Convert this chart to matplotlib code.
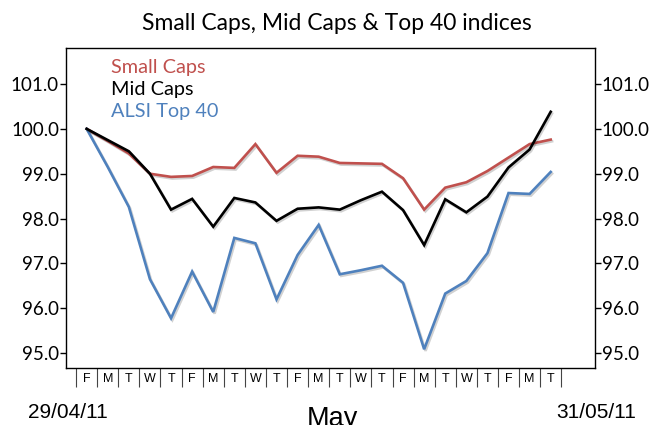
import numpy as np
import matplotlib
matplotlib.use("Agg")
import matplotlib.pyplot as plt
import matplotlib.patheffects as pe

# ---- data (index, 29/04/11 = 100) ----
days = ["F", "M", "T", "W", "T", "F", "M", "T", "W", "T", "F", "M",
        "T", "W", "T", "F", "M", "T", "W", "T", "F", "M", "T"]
small_caps = [100.0, 99.73, 99.45, 99.0, 98.93, 98.95, 99.15, 99.13, 99.66, 99.02,
              99.40, 99.38, 99.24, 99.23, 99.22, 98.90, 98.20, 98.69, 98.81, 99.06,
              99.36, 99.66, 99.76]
mid_caps = [100.0, 99.75, 99.50, 99.0, 98.20, 98.44, 97.82, 98.46, 98.36, 97.95,
            98.22, 98.25, 98.20, 98.41, 98.60, 98.19, 97.41, 98.43, 98.14, 98.49,
            99.14, 99.54, 100.38]
top40 = [100.0, 99.15, 98.26, 96.65, 95.78, 96.82, 95.92, 97.57, 97.45, 96.20,
         97.19, 97.86, 96.76, 96.85, 96.95, 96.57, 95.09, 96.33, 96.61, 97.23,
         98.57, 98.55, 99.04]
yticks = [95, 96, 97, 98, 99, 100, 101]

RED = "#C0504D"; BLUE = "#4F81BD"; BLK = "#000000"
FONT = ["Lato", "DejaVu Sans"]
plt.rcParams.update({"font.family": FONT, "axes.linewidth": 1.0})

fig = plt.figure(figsize=(6.56, 4.25), dpi=100)
ax = fig.add_axes([0.1006, 0.135, 0.8064, 0.753])
x = np.arange(len(days))
shadow = [pe.SimpleLineShadow(offset=(1, -1.2), alpha=0.18, shadow_color="k"), pe.Normal()]
for ys, col in [(small_caps, RED), (top40, BLUE), (mid_caps, BLK)]:
    ax.plot(x, ys, color=col, lw=1.9, solid_joinstyle="miter", path_effects=shadow)

ax.set_xlim(-0.98, 24.1)
ax.set_ylim(94.68, 101.81)
ax.set_yticks(yticks)
ax.set_yticklabels([f"{v:.1f}" for v in yticks])
ax.tick_params(axis="y", which="major", length=4, width=1, pad=1, labelsize=13.5,
               left=True, right=True, labelleft=True, labelright=True)

# category axis: labels between boundary ticks
ax.set_xticks(x)
ax.set_xticklabels(days)
ax.set_xticks(np.arange(-0.5, len(days)), minor=True)
ax.tick_params(axis="x", which="major", length=0, pad=4, labelsize=9)
ax.tick_params(axis="x", which="minor", length=14, width=0.8, color="#444")
for lab in ax.get_xticklabels():
    lab.set_family(["Liberation Sans", "DejaVu Sans"])

fig.text(337 / 656, 1 - 23 / 425, "Small Caps, Mid Caps & Top 40 indices",
         fontsize=16.5, ha="center", va="center")

for txt, col, yy in [("Small Caps", RED, 68), ("Mid Caps", BLK, 90), ("ALSI Top 40", BLUE, 111)]:
    fig.text(111 / 656, 1 - yy / 425, txt, color=col, fontsize=14.3, ha="left", va="center")

for txt, xx, yy in [("29/04/11", 68, 412), ("31/05/11", 596, 412)]:
    fig.text(xx / 656, 1 - yy / 425, txt, fontsize=15, ha="center", va="center",
             family=["Liberation Sans", "DejaVu Sans"])
# month label, cut at the bottom edge as in the reference
fig.text(332 / 656, -1 / 425, "May", fontsize=19.5, ha="center", va="baseline",
         family=["Liberation Sans", "DejaVu Sans"])

fig.savefig("out.png", dpi=100)
